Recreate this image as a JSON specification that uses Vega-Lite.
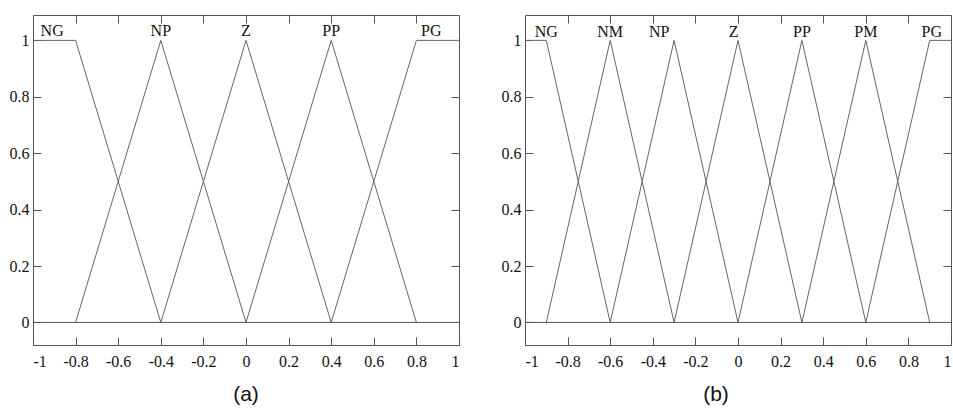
{
  "$schema": "https://vega.github.io/schema/vega-lite/v6.json",
  "background": "white",
  "padding": {"left": 8, "top": 14, "right": 0, "bottom": 0},
  "spacing": 38,
  "datasets": {
    "a_lines": [
      {"set": "NG", "x": -1, "y": 1}, {"set": "NG", "x": -0.8, "y": 1}, {"set": "NG", "x": -0.4, "y": 0},
      {"set": "NP", "x": -0.8, "y": 0}, {"set": "NP", "x": -0.4, "y": 1}, {"set": "NP", "x": 0, "y": 0},
      {"set": "Z", "x": -0.4, "y": 0}, {"set": "Z", "x": 0, "y": 1}, {"set": "Z", "x": 0.4, "y": 0},
      {"set": "PP", "x": 0, "y": 0}, {"set": "PP", "x": 0.4, "y": 1}, {"set": "PP", "x": 0.8, "y": 0},
      {"set": "PG", "x": 0.4, "y": 0}, {"set": "PG", "x": 0.8, "y": 1}, {"set": "PG", "x": 1, "y": 1}
    ],
    "a_labels": [
      {"label": "NG", "x": -0.91, "y": 1},
      {"label": "NP", "x": -0.4, "y": 1},
      {"label": "Z", "x": 0, "y": 1},
      {"label": "PP", "x": 0.4, "y": 1},
      {"label": "PG", "x": 0.87, "y": 1}
    ],
    "b_lines": [
      {"set": "NG", "x": -1, "y": 1}, {"set": "NG", "x": -0.9, "y": 1}, {"set": "NG", "x": -0.6, "y": 0},
      {"set": "NM", "x": -0.9, "y": 0}, {"set": "NM", "x": -0.6, "y": 1}, {"set": "NM", "x": -0.3, "y": 0},
      {"set": "NP", "x": -0.6, "y": 0}, {"set": "NP", "x": -0.3, "y": 1}, {"set": "NP", "x": 0, "y": 0},
      {"set": "Z", "x": -0.3, "y": 0}, {"set": "Z", "x": 0, "y": 1}, {"set": "Z", "x": 0.3, "y": 0},
      {"set": "PP", "x": 0, "y": 0}, {"set": "PP", "x": 0.3, "y": 1}, {"set": "PP", "x": 0.6, "y": 0},
      {"set": "PM", "x": 0.3, "y": 0}, {"set": "PM", "x": 0.6, "y": 1}, {"set": "PM", "x": 0.9, "y": 0},
      {"set": "PG", "x": 0.6, "y": 0}, {"set": "PG", "x": 0.9, "y": 1}, {"set": "PG", "x": 1, "y": 1}
    ],
    "b_labels": [
      {"label": "NG", "x": -0.9, "y": 1},
      {"label": "NM", "x": -0.6, "y": 1},
      {"label": "NP", "x": -0.37, "y": 1},
      {"label": "Z", "x": -0.02, "y": 1},
      {"label": "PP", "x": 0.3, "y": 1},
      {"label": "PM", "x": 0.6, "y": 1},
      {"label": "PG", "x": 0.91, "y": 1}
    ],
    "zero": [{"y": 0}]
  },
  "hconcat": [
    {
      "width": 426,
      "height": 330,
      "title": {"text": "(a)", "orient": "bottom"},
      "resolve": {"axis": {"x": "independent", "y": "independent"}},
      "layer": [
        {
          "data": {"name": "a_lines"},
          "mark": {"type": "line", "color": "#666", "strokeWidth": 1},
          "encoding": {
            "x": {"field": "x", "type": "quantitative",
              "scale": {"domain": [-1, 1], "nice": false, "zero": false},
              "axis": {"orient": "bottom", "values": [-1, -0.8, -0.6, -0.4, -0.2, 0, 0.2, 0.4, 0.6, 0.8, 1], "labelExpr": "'' + datum.value", "labelFlush": true, "labelPadding": 16, "labelFont": "Liberation Serif", "labelFontSize": 16}},
            "y": {"field": "y", "type": "quantitative",
              "scale": {"domain": [-0.08, 1.09], "nice": false, "zero": false},
              "axis": {"orient": "left", "values": [0, 0.2, 0.4, 0.6, 0.8, 1], "labelExpr": "'' + datum.value", "labelPadding": 12, "labelFont": "Liberation Serif", "labelFontSize": 16}},
            "detail": {"field": "set"}
          }
        },
        {
          "data": {"name": "zero"},
          "mark": {"type": "rule", "color": "#555", "strokeWidth": 1},
          "encoding": {"y": {"field": "y", "type": "quantitative", "axis": null}}
        },
        {
          "data": {"name": "a_labels"},
          "mark": {"type": "text", "font": "Liberation Serif", "fontSize": 16, "baseline": "alphabetic", "dy": -4, "color": "#111"},
          "encoding": {
            "x": {"field": "x", "type": "quantitative", "axis": {"orient": "top", "labels": false, "values": [-0.8, -0.6, -0.4, -0.2, 0, 0.2, 0.4, 0.6, 0.8]}},
            "y": {"field": "y", "type": "quantitative", "axis": {"orient": "right", "labels": false, "values": [0.2, 0.4, 0.6, 0.8]}},
            "text": {"field": "label"}
          }
        }
      ]
    },
    {
      "width": 426,
      "height": 330,
      "title": {"text": "(b)", "orient": "bottom", "dx": -22},
      "resolve": {"axis": {"x": "independent", "y": "independent"}},
      "layer": [
        {
          "data": {"name": "b_lines"},
          "mark": {"type": "line", "color": "#666", "strokeWidth": 1},
          "encoding": {
            "x": {"field": "x", "type": "quantitative",
              "scale": {"domain": [-1, 1], "nice": false, "zero": false},
              "axis": {"orient": "bottom", "values": [-1, -0.8, -0.6, -0.4, -0.2, 0, 0.2, 0.4, 0.6, 0.8, 1], "labelExpr": "'' + datum.value", "labelFlush": true, "labelPadding": 16, "labelFont": "Liberation Serif", "labelFontSize": 16}},
            "y": {"field": "y", "type": "quantitative",
              "scale": {"domain": [-0.08, 1.09], "nice": false, "zero": false},
              "axis": {"orient": "left", "values": [0, 0.2, 0.4, 0.6, 0.8, 1], "labelExpr": "'' + datum.value", "labelPadding": 12, "labelFont": "Liberation Serif", "labelFontSize": 16}},
            "detail": {"field": "set"}
          }
        },
        {
          "data": {"name": "zero"},
          "mark": {"type": "rule", "color": "#555", "strokeWidth": 1},
          "encoding": {"y": {"field": "y", "type": "quantitative", "axis": null}}
        },
        {
          "data": {"name": "b_labels"},
          "mark": {"type": "text", "font": "Liberation Serif", "fontSize": 16, "baseline": "alphabetic", "dy": -3, "color": "#111"},
          "encoding": {
            "x": {"field": "x", "type": "quantitative", "axis": {"orient": "top", "labels": false, "values": [-0.8, -0.6, -0.4, -0.2, 0, 0.2, 0.4, 0.6, 0.8]}},
            "y": {"field": "y", "type": "quantitative", "axis": {"orient": "right", "labels": false, "values": [0.2, 0.4, 0.6, 0.8]}},
            "text": {"field": "label"}
          }
        }
      ]
    }
  ],
  "config": {
    "view": {"stroke": "#555", "strokeWidth": 1},
    "axis": {
      "grid": false,
      "domain": false,
      "title": null,
      "tickColor": "#555",
      "tickWidth": 1,
      "tickSize": -8,
      "labelFont": "Liberation Serif",
      "labelFontSize": 16,
      "labelColor": "#111"
    },
    "title": {
      "font": "Liberation Sans",
      "fontSize": 21,
      "fontWeight": "normal",
      "color": "#111",
      "offset": 15
    }
  }
}
